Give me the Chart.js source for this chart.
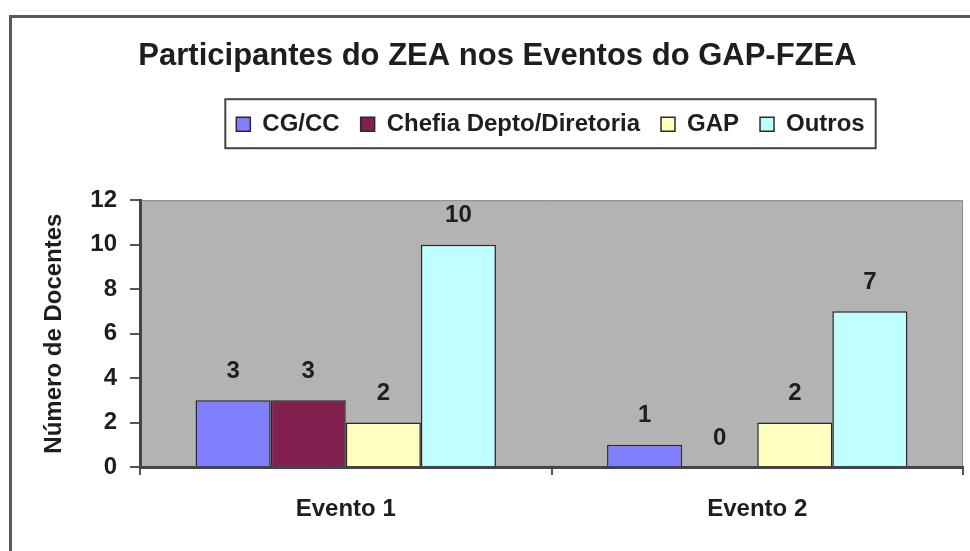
<!DOCTYPE html>
<html>
<head>
<meta charset="utf-8">
<script src="https://cdn.jsdelivr.net/npm/chart.js@4.4.1/dist/chart.umd.min.js"></script>
<style>
  body { margin: 0; background: #fff; }
  canvas { display: block; }
</style>
</head>
<body>
<canvas id="chart" width="970" height="551"></canvas>
<script>
const categories = ['Evento 1', 'Evento 2'];
const seriesNames = ['CG/CC', 'Chefia Depto/Diretoria', 'GAP', 'Outros'];
const cgcc = [3, 1];
const chefia = [3, 0];
const gap = [2, 2];
const outros = [10, 7];
const yMin = 0;
const yMax = 12;
const yStep = 2;

const colors = ['#8080ff', '#82204f', '#ffffc0', '#c0ffff'];
const font = "'Liberation Sans', Arial, sans-serif";

// gray plot area, outer frame and legend frame
const framePlugin = {
    id: 'frames',
    afterLayout(chart) {
        // move title and legend to where the reference has them
        chart.titleBlock.left += 10;
        chart.titleBlock.right += 10;
        chart.legend.left += 63;
        chart.legend.right += 63;
        chart.legend.top -= 54;
        chart.legend.bottom -= 54;
    },
    beforeDraw(chart) {
        const ctx = chart.ctx;
        const a = chart.chartArea;
        ctx.save();
        ctx.fillStyle = '#b3b3b3';
        ctx.fillRect(a.left, a.top, a.right - a.left, a.bottom - a.top);
        ctx.strokeStyle = '#8a8a8a';
        ctx.lineWidth = 1;
        ctx.beginPath();
        ctx.moveTo(a.left, a.top + 0.5);
        ctx.lineTo(a.right - 0.5, a.top + 0.5);
        ctx.lineTo(a.right - 0.5, a.bottom);
        ctx.stroke();

        ctx.strokeStyle = '#5a5a5a';
        ctx.lineWidth = 3;
        ctx.beginPath();
        ctx.moveTo(10.5, chart.height);
        ctx.lineTo(10.5, 16.5);
        ctx.lineTo(chart.width, 16.5);
        ctx.stroke();

        const lg = chart.legend;
        const pad = lg.options.labels.padding;
        const span = lg.lineWidths[0] - pad;
        const cx = (lg.left + lg.right) / 2;
        const cy = lg.top + pad + lg.options.labels.font.size / 2;
        ctx.strokeStyle = '#444';
        ctx.lineWidth = 2;
        ctx.strokeRect(cx - span / 2 - 11, cy - 25, span + 22, 49);
        ctx.restore();
    },
    afterDatasetsDraw(chart) {
        const ctx = chart.ctx;
        ctx.save();
        ctx.font = 'bold 24px ' + font;
        ctx.fillStyle = '#1e1e1e';
        ctx.textAlign = 'center';
        ctx.textBaseline = 'middle';
        chart.data.datasets.forEach((ds, i) => {
            chart.getDatasetMeta(i).data.forEach((bar, j) => {
                ctx.fillText(String(ds.data[j]), bar.x, bar.y - 29);
            });
        });
        ctx.restore();
    }
};

const seriesData = [cgcc, chefia, gap, outros];

new Chart(document.getElementById('chart'), {
    type: 'bar',
    data: {
        labels: categories,
        datasets: seriesNames.map((name, i) => ({
            label: name,
            data: seriesData[i],
            backgroundColor: colors[i],
            borderColor: '#2a2a2a',
            borderWidth: 1.5,
            categoryPercentage: 0.73,
            barPercentage: 1.0
        }))
    },
    options: {
        responsive: false,
        animation: false,
        devicePixelRatio: 1,
        layout: {
            padding: { left: 12, right: 7, top: 20, bottom: 0 }
        },
        plugins: {
            title: {
                display: true,
                text: 'Participantes do ZEA nos Eventos do GAP-FZEA',
                color: '#1e1e1e',
                font: { family: font, size: 31, weight: 'bold' },
                padding: { top: 18, bottom: 70 }
            },
            legend: {
                display: true,
                position: 'top',
                labels: {
                    color: '#1e1e1e',
                    font: { family: font, size: 24, weight: 'bold' },
                    boxWidth: 14,
                    boxHeight: 14,
                    padding: 21
                }
            },
            tooltip: { enabled: false }
        },
        scales: {
            x: {
                grid: {
                    display: true,
                    drawOnChartArea: false,
                    tickLength: 8,
                    color: '#555',
                    lineWidth: 2
                },
                border: { color: '#444', width: 3 },
                ticks: {
                    color: '#1e1e1e',
                    font: { family: font, size: 24, weight: 'bold' },
                    padding: 20
                },
                afterFit(scale) { scale.height = 84; }
            },
            y: {
                min: yMin,
                max: yMax,
                grid: {
                    display: true,
                    drawOnChartArea: false,
                    tickLength: 10,
                    color: '#555',
                    lineWidth: 2
                },
                border: { color: '#444', width: 3 },
                ticks: {
                    stepSize: yStep,
                    color: '#1e1e1e',
                    font: { family: font, size: 24, weight: 'bold' },
                    padding: 13
                },
                title: {
                    display: true,
                    text: 'Número de Docentes',
                    color: '#1e1e1e',
                    font: { family: font, size: 24, weight: 'bold' },
                    padding: { top: 28, bottom: 4 }
                },
                afterFit(scale) { scale.width = 128; }
            }
        }
    },
    plugins: [framePlugin]
});
</script>
</body>
</html>
